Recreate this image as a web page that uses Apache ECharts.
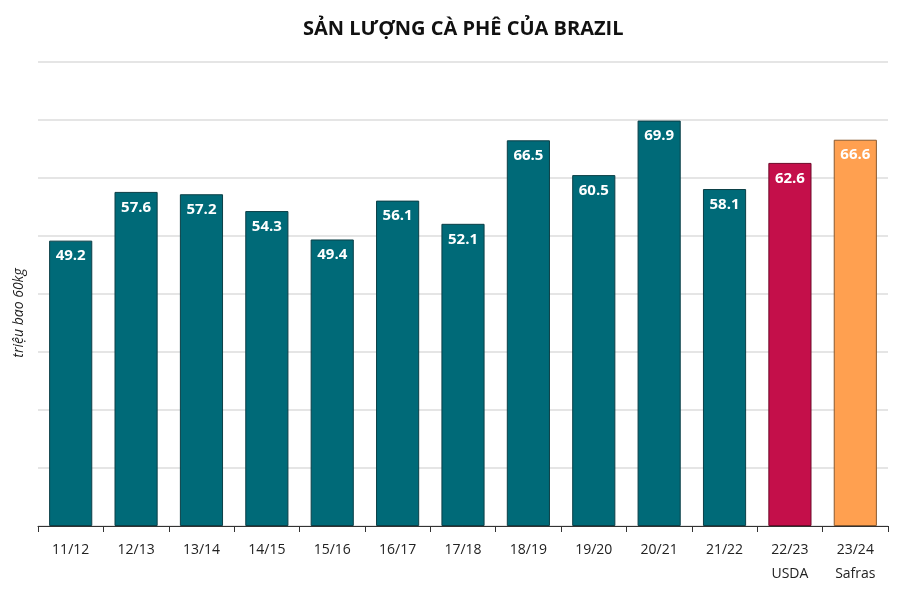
<!DOCTYPE html>
<html style="height: 100%" lang="vi">
<head>
  <meta charset="utf-8">
  <script type="text/javascript" src="https://cdn.jsdelivr.net/npm/echarts@6/dist/echarts.min.js"></script>
</head>
<body style="height: 100%; margin: 0">
  <div id="container" style="width: 900px; height: 600px"></div>
  <script type="text/javascript">
    // niên vụ
    var seasons = ['11/12', '12/13', '13/14', '14/15', '15/16', '16/17', '17/18',
      '18/19', '19/20', '20/21', '21/22', '22/23\nUSDA', '23/24\nSafras'];
    // triệu bao 60kg
    var production = [49.2, 57.6, 57.2, 54.3, 49.4, 56.1, 52.1, 66.5, 60.5, 69.9, 58.1, 62.6, 66.6];
    var barColors = ['#006a78', '#006a78', '#006a78', '#006a78', '#006a78', '#006a78', '#006a78',
      '#006a78', '#006a78', '#006a78', '#006a78', '#c40f4a', '#ffa050'];
    var borderColors = ['#0b3f47', '#0b3f47', '#0b3f47', '#0b3f47', '#0b3f47', '#0b3f47', '#0b3f47',
      '#0b3f47', '#0b3f47', '#0b3f47', '#0b3f47', '#6e0a2a', '#8a5a30'];

    var dom = document.getElementById("container");
    var myChart = echarts.init(dom);

    var option = {
      title: {
        text: 'SẢN LƯỢNG CÀ PHÊ CỦA BRAZIL',
        left: 298,
        top: 14,
        textStyle: {
          fontFamily: 'Open Sans',
          fontWeight: 'bold',
          fontSize: 20,
          color: '#111'
        }
      },
      grid: {
        left: 38,
        right: 12,
        top: 62,
        bottom: 74
      },
      xAxis: {
        type: 'category',
        data: seasons,
        axisLine: { lineStyle: { color: '#333', width: 1 } },
        axisTick: { show: true, length: 6, lineStyle: { color: '#333' } },
        axisLabel: {
          fontFamily: 'Open Sans',
          fontSize: 14,
          color: '#222',
          margin: 12,
          lineHeight: 24
        }
      },
      yAxis: {
        type: 'value',
        min: 0,
        max: 80,
        interval: 10,
        name: 'triệu bao 60kg',
        nameLocation: 'middle',
        nameGap: 12,
        nameTextStyle: {
          fontFamily: 'Open Sans',
          fontStyle: 'italic',
          fontSize: 14,
          color: '#222',
          padding: [0, 0, 0, -38]
        },
        axisLine: { show: false },
        axisTick: { show: false },
        axisLabel: { show: false },
        splitLine: { lineStyle: { color: '#dcdcdc', width: 1.5 } }
      },
      series: [{
        type: 'bar',
        barCategoryGap: '34%',
        data: production.map(function(v, i) {
          return {
            value: v,
            itemStyle: { color: barColors[i], borderColor: borderColors[i], borderWidth: 1 }
          };
        }),
        label: {
          show: true,
          position: 'insideTop',
          distance: 8,
          color: '#fff',
          fontFamily: 'Open Sans',
          fontWeight: 'bold',
          fontSize: 15,
          formatter: function(p) { return p.value.toFixed(1); }
        },
        animation: false
      }]
    };

    myChart.setOption(option);
  </script>
</body>
</html>
